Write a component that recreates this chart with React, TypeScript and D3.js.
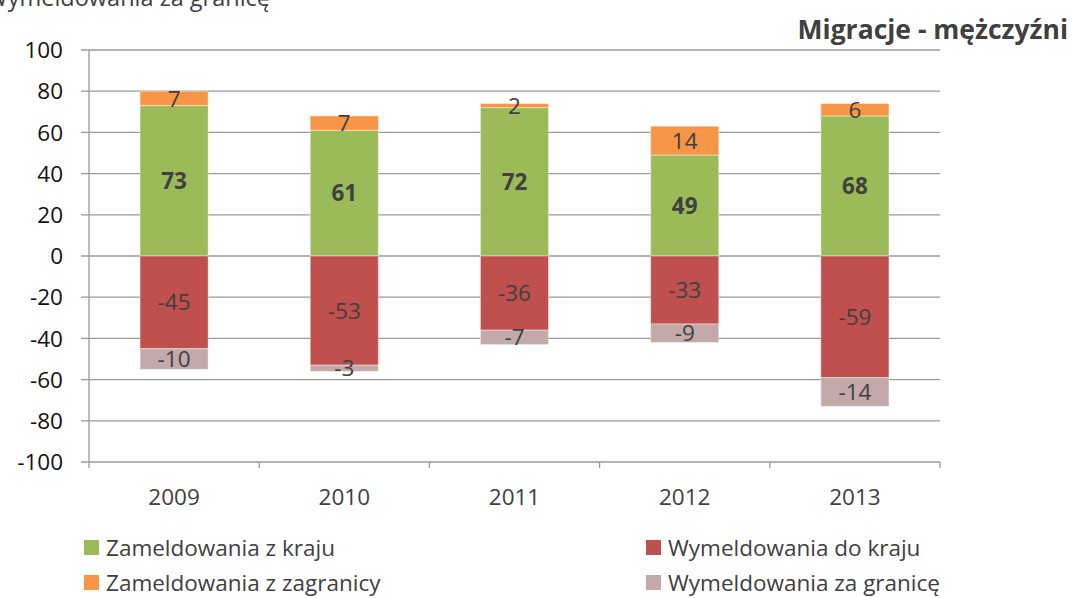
import React from "react";
import * as d3 from "d3";

const years = ["2009", "2010", "2011", "2012", "2013"];
const zamKraj = [73, 61, 72, 49, 68];
const zamZagr = [7, 7, 2, 14, 6];
const wymKraj = [-45, -53, -36, -33, -59];
const wymZagr = [-10, -3, -7, -9, -14];
const yTicks = [100, 80, 60, 40, 20, 0, -20, -40, -60, -80, -100];
const seriesNames = [
  "Zameldowania z kraju",
  "Wymeldowania do kraju",
  "Zameldowania z zagranicy",
  "Wymeldowania za granicę",
];
const colors = {
  zamKraj: "#9BBB59",
  zamZagr: "#F79646",
  wymKraj: "#C0504D",
  wymZagr: "#C3A9A9",
};

const FONT = "'Open Sans', 'Noto Sans', sans-serif";
const TXT = "#404040";
const FS = 22.5;

export default function App() {
  const W = 1072, H = 598;
  const left = 89, right = 940, top = 50, bottom = 462;
  const x = d3.scaleBand<string>().domain(years).range([left, right]).paddingInner(0.6).paddingOuter(0.3);
  const xb = d3.scaleBand<string>().domain(years).range([left, right]);
  const y = d3.scaleLinear().domain([-100, 100]).range([bottom, top]);

  type Seg = { y0: number; y1: number; v: number; color: string; bold: boolean };
  const bars = years.map((yr, i) => {
    const segs: Seg[] = [
      { y0: 0, y1: zamKraj[i], v: zamKraj[i], color: colors.zamKraj, bold: true },
      { y0: zamKraj[i], y1: zamKraj[i] + zamZagr[i], v: zamZagr[i], color: colors.zamZagr, bold: false },
      { y0: 0, y1: wymKraj[i], v: wymKraj[i], color: colors.wymKraj, bold: false },
      { y0: wymKraj[i], y1: wymKraj[i] + wymZagr[i], v: wymZagr[i], color: colors.wymZagr, bold: false },
    ];
    return { yr, segs };
  });

  const legendColors = [colors.zamKraj, colors.wymKraj, colors.zamZagr, colors.wymZagr];
  const legendPos = [
    [84, 548], [646, 548], [84, 583], [646, 583],
  ];

  return (
    <svg width={W} height={H} style={{ position: "absolute", left: 0, top: 0, background: "#fff" }} fontFamily={FONT}>
      <text x={-14} y={6} fontSize={23.5} fill={TXT}>Wymeldowania za granicę</text>
      <text x={1068} y={39} fontSize={26.5} fontWeight="bold" fill={TXT} textAnchor="end">Migracje - mężczyźni</text>
      {yTicks.map((t) => (
        <g key={t}>
          <line x1={left - 8} x2={right} y1={y(t)} y2={y(t)} stroke="#9a9a9a" strokeWidth={1.3} />
          <text x={63} y={y(t)} dy="0.36em" textAnchor="end" fontSize={FS} fill="#111">{t}</text>
        </g>
      ))}
      <line x1={left} x2={left} y1={top} y2={bottom + 6} stroke="#9a9a9a" strokeWidth={1.3} />
      {years.map((yr) => (
        <line key={yr} x1={(xb(yr) as number) + xb.bandwidth()} x2={(xb(yr) as number) + xb.bandwidth()} y1={bottom} y2={bottom + 6} stroke="#9a9a9a" strokeWidth={1.3} />
      ))}
      {years.map((yr) => (
        <text key={yr} x={(xb(yr) as number) + xb.bandwidth() / 2} y={497} dy="0.36em" textAnchor="middle" fontSize={FS} fill={TXT}>{yr}</text>
      ))}
      {bars.map((b) => (
        <g key={b.yr}>
          {b.segs.map((s, j) => {
            const ya = y(Math.max(s.y0, s.y1));
            const yb = y(Math.min(s.y0, s.y1));
            return (
              <rect key={j} x={x(b.yr)} width={x.bandwidth()} y={ya} height={yb - ya} fill={s.color} stroke="#ffffff" strokeOpacity={0.4} strokeWidth={1} />
            );
          })}
          {b.segs.map((s, j) => (
            <text key={"t" + j} x={(x(b.yr) as number) + x.bandwidth() / 2} y={y((s.y0 + s.y1) / 2)} dy="0.36em" textAnchor="middle" fontSize={FS} fontWeight={s.bold ? "bold" : "normal"} fill={TXT}>{s.v}</text>
          ))}
        </g>
      ))}
      {seriesNames.map((n, i) => (
        <g key={n}>
          <rect x={legendPos[i][0]} y={legendPos[i][1] - 8} width={15} height={15} fill={legendColors[i]} />
          <text x={legendPos[i][0] + 22} y={legendPos[i][1]} dy="0.36em" fontSize={FS} fill={TXT}>{n}</text>
        </g>
      ))}
    </svg>
  );
}
